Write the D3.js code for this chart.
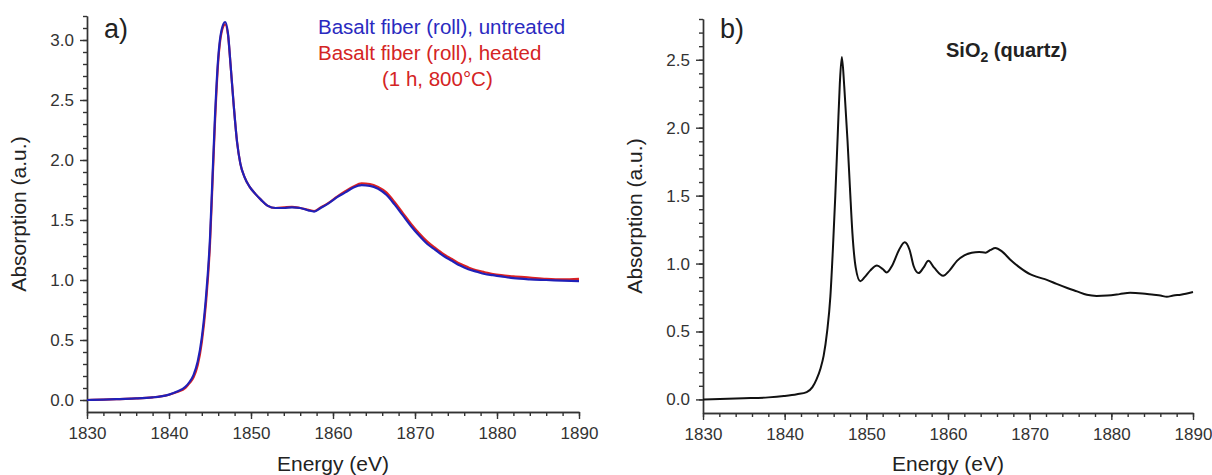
<!DOCTYPE html>
<html>
<head>
<meta charset="utf-8">
<script src="https://cdn.jsdelivr.net/npm/d3@7"></script>
<style>
  body { margin: 0; background: #fff; }
  svg { font-family: "Liberation Sans", Arial, sans-serif; }
  .axis path, .axis line { stroke: #333; stroke-width: 1.4; }
  .axis text { fill: #333; font-size: 17px; font-family: "Liberation Sans", Arial, sans-serif; }
</style>
</head>
<body>
<div class="chart"></div>
<script>
// energies (eV) and absorption values
const energyA = [1830, 1832, 1834, 1836, 1838, 1839, 1840, 1841, 1842, 1842.5, 1843, 1843.5, 1844, 1844.5, 1845, 1845.3, 1845.6, 1846, 1846.4, 1846.85, 1847.2, 1847.5, 1847.9, 1848.3, 1848.7, 1849.2, 1849.8, 1850.5, 1851.2, 1852, 1853, 1854, 1855, 1856, 1857, 1857.7, 1858.5, 1859.5, 1860.5, 1861.5, 1862.5, 1863.5, 1864.5, 1865.5, 1866.5, 1867.5, 1868.5, 1869.5, 1870.5, 1871.5, 1872.5, 1873.5, 1874.5, 1875.5, 1876.5, 1877.5, 1878.5, 1879.5, 1880.5, 1882, 1884, 1886, 1888, 1890];
const untreated = [0.0, 0.003, 0.008, 0.013, 0.022, 0.03, 0.045, 0.07, 0.11, 0.15, 0.21, 0.32, 0.52, 0.85, 1.35, 1.85, 2.35, 2.85, 3.08, 3.15, 3.05, 2.8, 2.45, 2.15, 1.97, 1.86, 1.78, 1.72, 1.67, 1.62, 1.6, 1.6, 1.605, 1.6, 1.58, 1.57, 1.6, 1.64, 1.69, 1.73, 1.77, 1.79, 1.785, 1.76, 1.71, 1.63, 1.54, 1.45, 1.37, 1.3, 1.25, 1.2, 1.16, 1.12, 1.09, 1.07, 1.05, 1.04, 1.03, 1.015, 1.005, 1.0, 0.995, 0.99];
const heated = [0.0, 0.003, 0.008, 0.013, 0.022, 0.03, 0.044, 0.066, 0.1, 0.14, 0.19, 0.29, 0.48, 0.8, 1.3, 1.8, 2.3, 2.82, 3.06, 3.13, 3.04, 2.8, 2.45, 2.15, 1.97, 1.86, 1.78, 1.72, 1.67, 1.62, 1.6, 1.605, 1.61, 1.6, 1.585, 1.575, 1.605, 1.645, 1.695, 1.74, 1.78, 1.805, 1.8, 1.775, 1.73, 1.65, 1.56, 1.47, 1.39, 1.32, 1.265, 1.215, 1.175, 1.135, 1.105, 1.08, 1.065, 1.05, 1.04, 1.03, 1.02, 1.01, 1.005, 1.01];

const energyB = [1830, 1835, 1838, 1839.9, 1841.5, 1842.7, 1843.4, 1843.9, 1844.4, 1844.77, 1845.2, 1845.6, 1845.9, 1846.2, 1846.5, 1846.75, 1847.0, 1847.3, 1847.7, 1848.0, 1848.3, 1848.7, 1849.26, 1849.8, 1850.5, 1851.3, 1852.0, 1852.5, 1853.2, 1854.0, 1854.7, 1855.3, 1855.8, 1856.4, 1857.0, 1857.6, 1858.3, 1859.4, 1860.2, 1861.1, 1862.0, 1862.9, 1863.8, 1864.6, 1865.2, 1865.8, 1866.6, 1867.6, 1868.8, 1870.1, 1871.0, 1872.1, 1873.3, 1874.6, 1875.8, 1877.0, 1878.2, 1879.5, 1881.0, 1882.3, 1883.8, 1885.2, 1886.0, 1886.8, 1887.6, 1888.5, 1890];
const quartz = [0.0, 0.008, 0.015, 0.025, 0.038, 0.054, 0.09, 0.147, 0.23, 0.32, 0.5, 0.76, 1.1, 1.5, 1.95, 2.32, 2.52, 2.3, 1.9, 1.55, 1.22, 0.97, 0.87, 0.9, 0.95, 0.985, 0.96, 0.935, 0.99, 1.1, 1.157, 1.1, 0.98, 0.93, 0.97, 1.02, 0.97, 0.91, 0.95, 1.02, 1.06, 1.08, 1.085, 1.08, 1.1, 1.115, 1.09, 1.03, 0.97, 0.92, 0.9, 0.88, 0.85, 0.82, 0.795, 0.77, 0.762, 0.765, 0.775, 0.785, 0.78, 0.77, 0.765, 0.755, 0.765, 0.77, 0.79];

const xTicks = [1830, 1840, 1850, 1860, 1870, 1880, 1890];
const yTicksA = [0.0, 0.5, 1.0, 1.5, 2.0, 2.5, 3.0];
const yTicksB = [0.0, 0.5, 1.0, 1.5, 2.0, 2.5];

const outWidth = 1212, outHeight = 475;

const svg = d3.select('.chart').append('svg')
    .attr("width", outWidth)
    .attr("height", outHeight);

function panel(opts) {
    const x = d3.scaleLinear().domain([1830, 1890]).range([opts.left, opts.right]);
    const y = d3.scaleLinear().domain(opts.yDomain).range([opts.bottom, opts.top]);

    // minor ticks first, majors on top
    const xMinor = d3.range(1830, 1890.1, 2);
    const yMinor = d3.range(0, opts.yDomain[1] + 0.001, 0.1);

    svg.append("g").attr("class", "axis")
        .attr("transform", `translate(0, ${opts.bottom})`)
        .call(d3.axisBottom(x).tickValues(xMinor).tickSize(4).tickSizeOuter(0).tickFormat(""));
    svg.append("g").attr("class", "axis")
        .attr("transform", `translate(${opts.left}, 0)`)
        .call(d3.axisLeft(y).tickValues(yMinor).tickSize(4).tickSizeOuter(0).tickFormat(""));

    svg.append("g").attr("class", "axis")
        .attr("transform", `translate(0, ${opts.bottom})`)
        .call(d3.axisBottom(x).tickValues(xTicks).tickSize(7).tickSizeOuter(0).tickPadding(8).tickFormat(d3.format("d")));
    svg.append("g").attr("class", "axis")
        .attr("transform", `translate(${opts.left}, 0)`)
        .call(d3.axisLeft(y).tickValues(opts.yTicks).tickSize(7).tickSizeOuter(0).tickPadding(6).tickFormat(d3.format(".1f")));

    svg.append("text")
        .attr("x", (opts.left + opts.right) / 2)
        .attr("y", 471)
        .attr("text-anchor", "middle")
        .attr("fill", "#222")
        .style("font-size", "21px")
        .text("Energy (eV)");

    svg.append("text")
        .attr("transform", `translate(${opts.left - 61}, ${(opts.top + opts.bottom) / 2}) rotate(-90)`)
        .attr("text-anchor", "middle")
        .attr("fill", "#222")
        .style("font-size", "21px")
        .text("Absorption (a.u.)");

    svg.append("text")
        .attr("x", opts.left + 17)
        .attr("y", 38)
        .attr("fill", "#222")
        .style("font-size", "27px")
        .text(opts.label);

    const line = (xs, ys) => d3.line()
        .x((d, i) => x(xs[i]))
        .y(d => y(d))
        .curve(d3.curveMonotoneX)(ys);

    return {x, y, line};
}

// a)
const pa = panel({left: 87, right: 579, top: 16, bottom: 412, yDomain: [-0.1, 3.2], yTicks: yTicksA, label: "a)"});
svg.append("path")
    .attr("d", pa.line(energyA, heated))
    .attr("fill", "none")
    .attr("stroke", "#dd2222")
    .attr("stroke-width", 2.2);
svg.append("path")
    .attr("d", pa.line(energyA, untreated))
    .attr("fill", "none")
    .attr("stroke", "#2020b8")
    .attr("stroke-width", 2.2);

const legend = svg.append("g").style("font-size", "20.5px");
legend.append("text").attr("x", 318).attr("y", 34).attr("fill", "#2a2ac0").text("Basalt fiber (roll), untreated");
legend.append("text").attr("x", 318).attr("y", 60).attr("fill", "#d42424").text("Basalt fiber (roll), heated");
legend.append("text").attr("x", 382).attr("y", 86).attr("fill", "#d42424").text("(1 h, 800°C)");

// b)
const pb = panel({left: 703, right: 1193, top: 19, bottom: 413, yDomain: [-0.1, 2.8], yTicks: yTicksB, label: "b)"});
svg.append("path")
    .attr("d", pb.line(energyB, quartz))
    .attr("fill", "none")
    .attr("stroke", "#111")
    .attr("stroke-width", 2);

const title = svg.append("text")
    .attr("x", 946)
    .attr("y", 57)
    .attr("fill", "#222")
    .style("font-size", "20px")
    .style("font-weight", "bold");
title.append("tspan").text("SiO");
title.append("tspan").attr("dy", 5).style("font-size", "14px").text("2");
title.append("tspan").attr("dy", -5).text(" (quartz)");
</script>
</body>
</html>
